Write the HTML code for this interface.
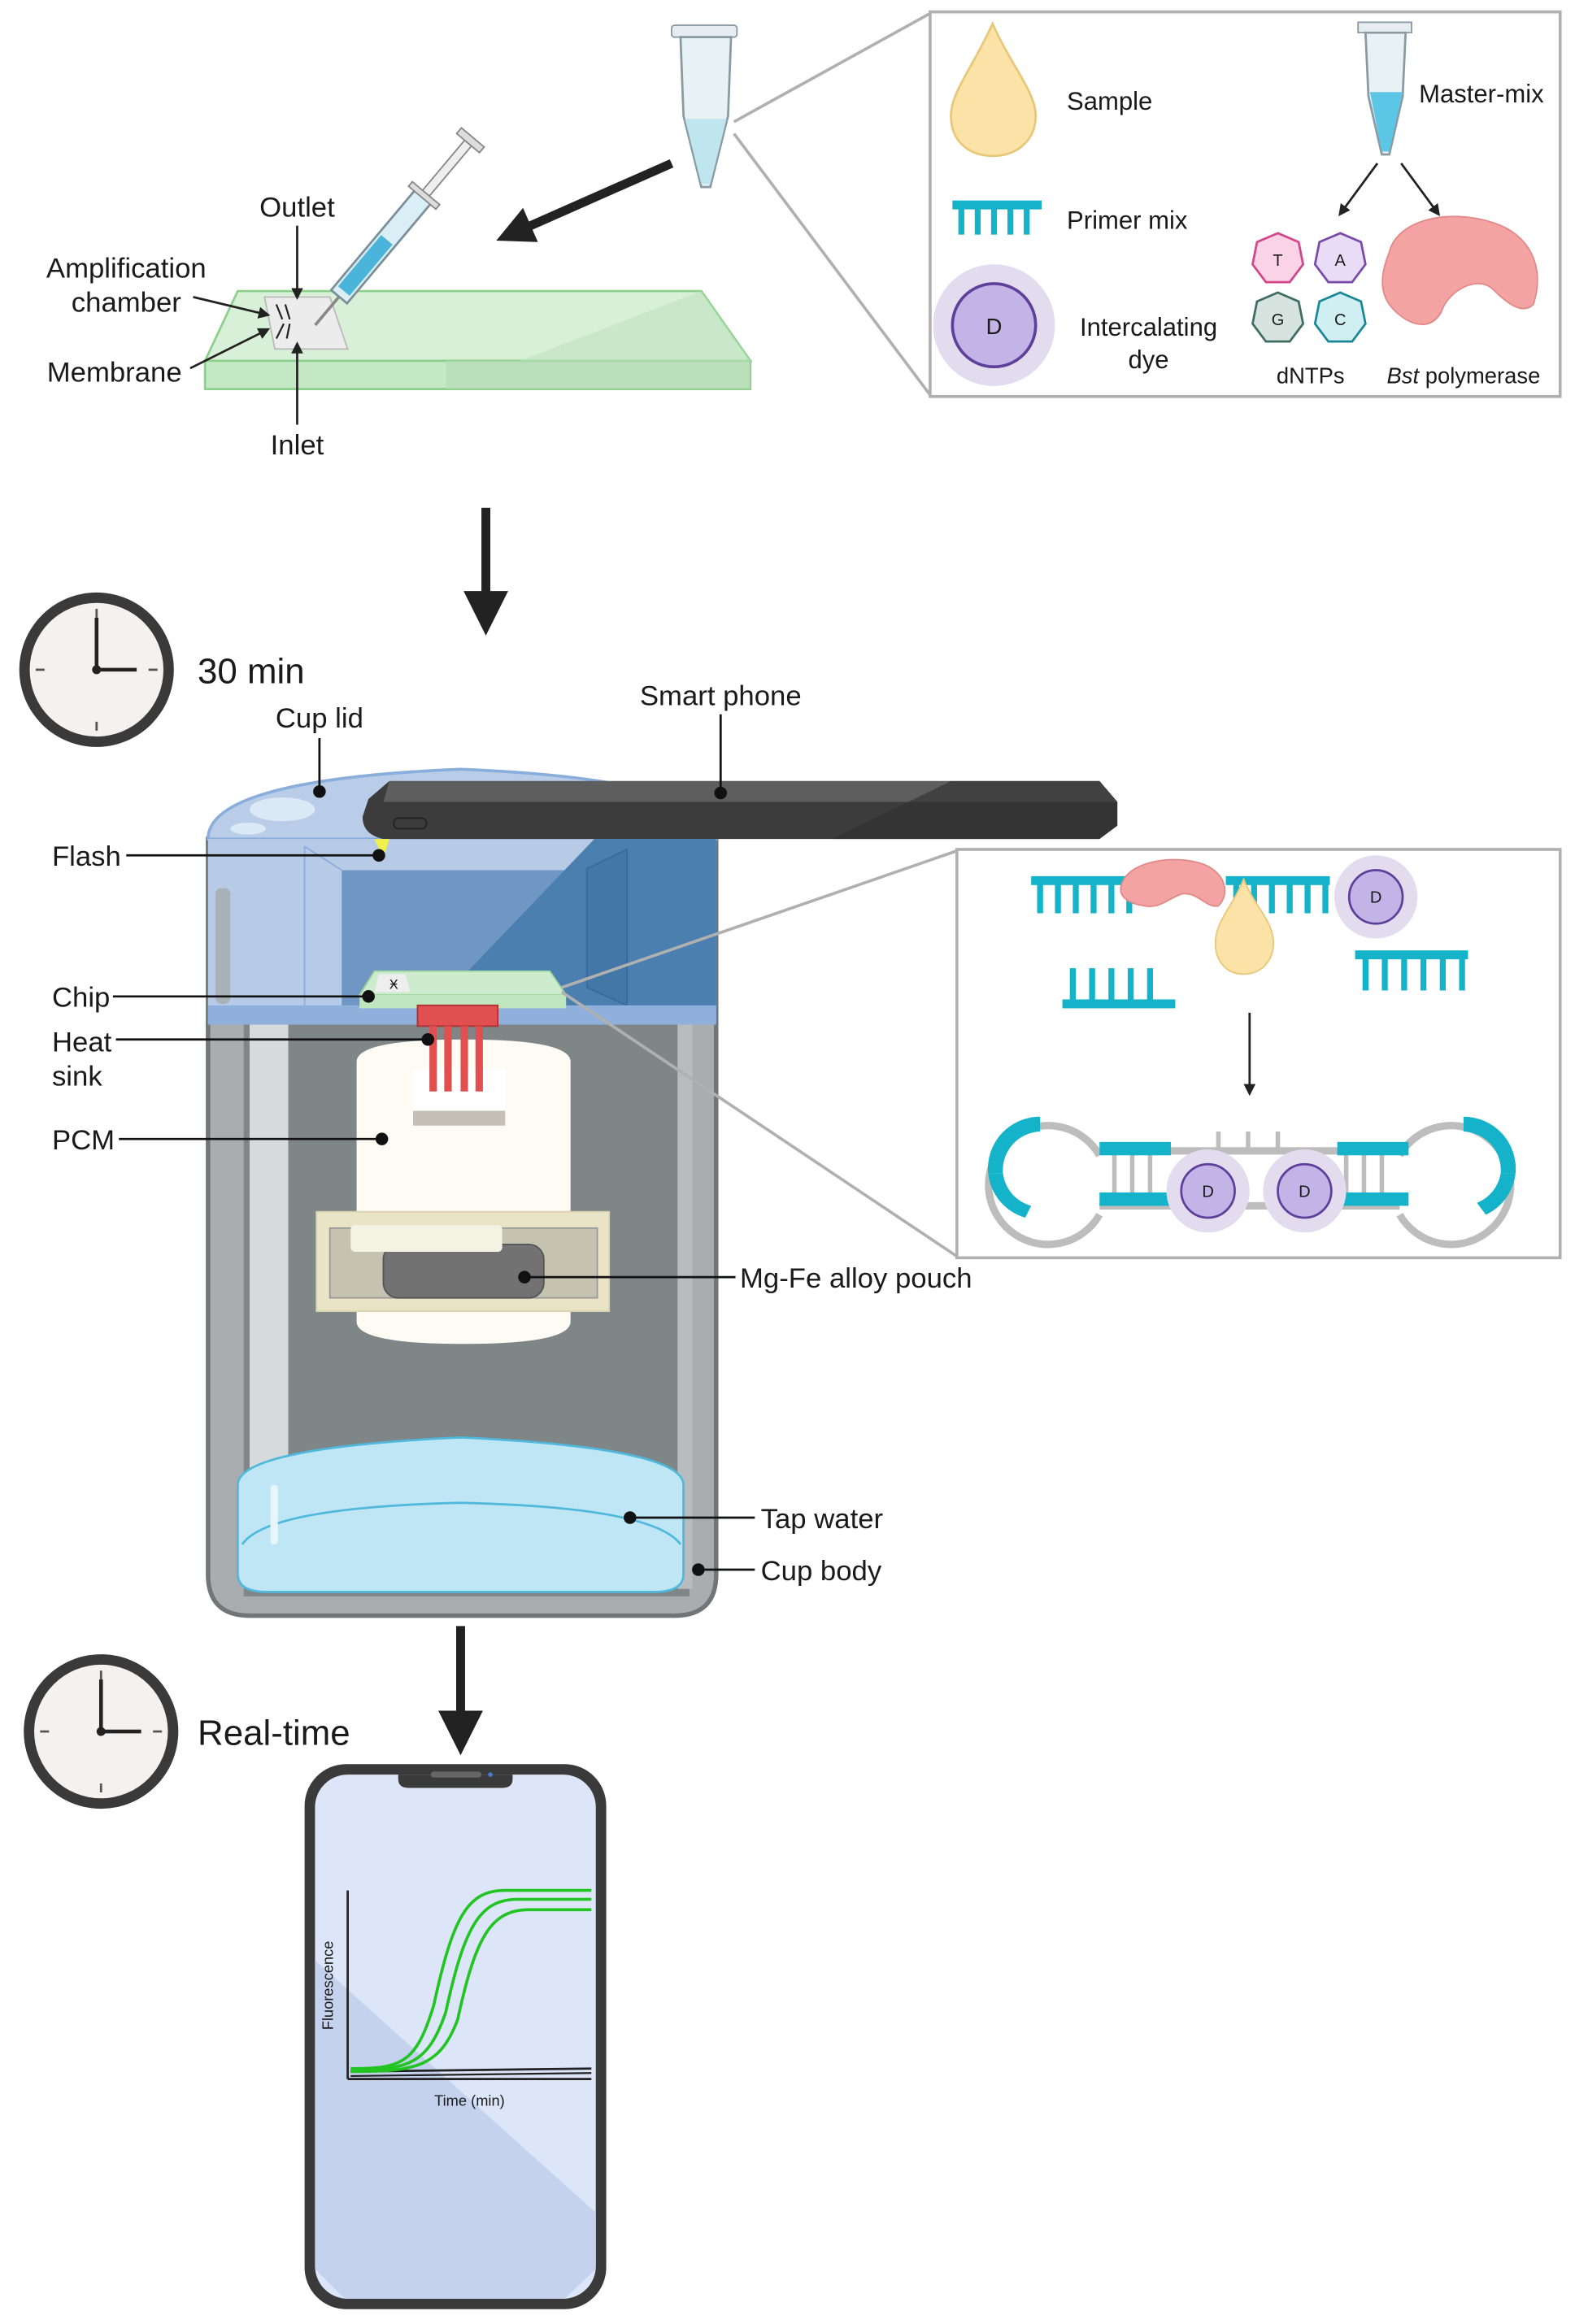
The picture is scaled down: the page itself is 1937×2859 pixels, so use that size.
<!DOCTYPE html>
<html><head><meta charset="utf-8"><style>
html,body{margin:0;padding:0;background:#fff}
svg{display:block}
text{font-family:"Liberation Sans",sans-serif;fill:#1a1a1a}
</style></head><body>
<svg width="1937" height="2859" viewBox="0 0 1060 1565" preserveAspectRatio="none" xmlns="http://www.w3.org/2000/svg">
<defs>
<marker id="ah" markerWidth="8" markerHeight="8" refX="6" refY="4" orient="auto" markerUnits="userSpaceOnUse"><path d="M0,0 L8,4 L0,8 z" fill="#222"/></marker>
</defs>

<!-- top tube -->
<g>
<rect x="452" y="17" width="44" height="8" rx="2" fill="#e6ecef" stroke="#8a9aa3"/>
<path d="M458,25 L492,25 L490,78 L478,126 L472,126 L460,78 Z" fill="#e8f1f4" stroke="#8a9aa3" stroke-width="1.5"/>
<path d="M461,80 L489,80 L478,124 L472,124 Z" fill="#bfe6ef"/>
</g>
<!-- zoom lines -->
<line x1="494" y1="82" x2="626" y2="9" stroke="#b0b0b0" stroke-width="2"/>
<line x1="494" y1="90" x2="626" y2="266" stroke="#b0b0b0" stroke-width="2"/>
<rect x="626" y="8" width="424" height="259" fill="#fff" stroke="#b0b0b0" stroke-width="2"/>

<!-- box1 contents -->
<path d="M668,16 C655,45 640,62 640,78 C640,95 652,105 668,105 C684,105 697,95 697,78 C697,62 681,45 668,16 Z" fill="#fbe3a8" stroke="#e9c77a" stroke-width="1.5"/>
<text x="718" y="74" font-size="17">Sample</text>
<rect x="914" y="15" width="36" height="7" fill="#e6ecef" stroke="#8a9aa3"/>
<path d="M919,22 L946,22 L944,65 L935,104 L930,104 L921,65 Z" fill="#e8f1f4" stroke="#8a9aa3" stroke-width="1.5"/>
<path d="M922,62 L944,62 L935,102 L930,102 Z" fill="#5cc6e6"/>
<text x="955" y="69" font-size="17">Master-mix</text>
<g fill="#14b3c9">
<rect x="641" y="135" width="60" height="6"/>
<rect x="645" y="140" width="4" height="18"/><rect x="656" y="140" width="4" height="18"/><rect x="667" y="140" width="4" height="18"/><rect x="678" y="140" width="4" height="18"/><rect x="689" y="140" width="4" height="18"/>
</g>
<text x="718" y="154" font-size="17">Primer mix</text>
<circle cx="669" cy="219" r="41" fill="#e3dcef"/>
<circle cx="669" cy="219" r="28" fill="#c2b4e6" stroke="#5e3f9a" stroke-width="2"/>
<text x="669" y="225" font-size="15" text-anchor="middle">D</text>
<text x="773" y="226" font-size="17" text-anchor="middle">Intercalating</text>
<text x="773" y="248" font-size="17" text-anchor="middle">dye</text>
<line x1="927" y1="110" x2="902" y2="144" stroke="#222" stroke-width="1.5" marker-end="url(#ah)"/>
<line x1="943" y1="110" x2="968" y2="144" stroke="#222" stroke-width="1.5" marker-end="url(#ah)"/>
<g stroke-width="1.5" font-size="11">
<polygon points="860,157 874,163 877,178 868,190 852,190 843,178 846,163" fill="#fbd3e6" stroke="#d0478a"/>
<polygon points="902,157 916,163 919,178 910,190 894,190 885,178 888,163" fill="#e9dcf6" stroke="#7a4aa8"/>
<polygon points="860,197 874,203 877,218 868,230 852,230 843,218 846,203" fill="#d6e3df" stroke="#3f6d62"/>
<polygon points="902,197 916,203 919,218 910,230 894,230 885,218 888,203" fill="#cfeff3" stroke="#1b8796"/>
</g>
<text x="860" y="179" font-size="11" text-anchor="middle">T</text>
<text x="902" y="179" font-size="11" text-anchor="middle">A</text>
<text x="860" y="219" font-size="11" text-anchor="middle">G</text>
<text x="902" y="219" font-size="11" text-anchor="middle">C</text>
<text x="882" y="258" font-size="15" text-anchor="middle">dNTPs</text>
<path d="M935,170 C940,148 975,140 1005,150 C1030,158 1040,180 1032,205 C1025,212 1015,205 1005,195 C995,185 975,195 970,210 C962,225 945,218 935,205 C928,195 930,182 935,170 Z" fill="#f4a3a3" stroke="#e28989"/>
<text x="985" y="258" font-size="15" text-anchor="middle"><tspan font-style="italic">Bst</tspan> polymerase</text>

<!-- slide -->
<polygon points="160,196 472,196 505,243 138,243" fill="#d7f0d7" stroke="#8cd08c" stroke-width="1.5"/>
<polygon points="138,243 505,243 505,262 138,262" fill="#c5e8c5" stroke="#8cd08c" stroke-width="1.5"/>
<polygon points="300,243 505,243 505,262 300,262" fill="#b5dcb5" opacity="0.7"/>
<polygon points="350,243 472,196 505,243" fill="#bfe2bf" opacity="0.6"/>
<polygon points="178,200 222,200 234,235 185,235" fill="#ececec" stroke="#bbb"/>
<!-- syringe -->
<g transform="rotate(-50 270 150)">
<rect x="205" y="143" width="90" height="14" fill="#d9eef5" stroke="#7a8f99" stroke-width="1.5"/>
<rect x="210" y="145" width="45" height="10" fill="#4ab4da"/>
<rect x="295" y="147" width="45" height="6" fill="#eee" stroke="#888"/>
<rect x="340" y="140" width="5" height="20" fill="#ddd" stroke="#888"/>
<rect x="292" y="138" width="4" height="24" fill="#ddd" stroke="#888"/>
<line x1="205" y1="150" x2="180" y2="150" stroke="#888" stroke-width="2"/>
</g>
<line x1="452" y1="110" x2="348" y2="156" stroke="#222" stroke-width="6"/>
<polygon points="334,162 352,140 362,163" fill="#222"/>
<text x="200" y="146" font-size="19" text-anchor="middle">Outlet</text>
<line x1="200" y1="152" x2="200" y2="200" stroke="#222" stroke-width="1.5" marker-end="url(#ah)"/>
<text x="85" y="187" font-size="19" text-anchor="middle">Amplification</text>
<text x="85" y="210" font-size="19" text-anchor="middle">chamber</text>
<line x1="130" y1="200" x2="180" y2="212" stroke="#222" stroke-width="1.5" marker-end="url(#ah)"/>
<text x="77" y="257" font-size="19" text-anchor="middle">Membrane</text>
<line x1="128" y1="248" x2="180" y2="222" stroke="#222" stroke-width="1.5" marker-end="url(#ah)"/>
<text x="200" y="306" font-size="19" text-anchor="middle">Inlet</text>
<line x1="200" y1="286" x2="200" y2="232" stroke="#222" stroke-width="1.5" marker-end="url(#ah)"/>
<g stroke="#222" stroke-width="1.2"><line x1="186" y1="205" x2="190" y2="215"/><line x1="192" y1="205" x2="195" y2="215"/><line x1="186" y1="228" x2="191" y2="218"/><line x1="193" y1="228" x2="195" y2="218"/></g>

<!-- down arrow 1 -->
<line x1="327" y1="342" x2="327" y2="400" stroke="#222" stroke-width="6"/>
<polygon points="312,398 342,398 327,428" fill="#222"/>

<!-- clock 1 -->
<circle cx="65" cy="451" r="52" fill="#3a3a3a"/>
<circle cx="65" cy="451" r="45" fill="#f4f1f1"/>
<g stroke="#555" stroke-width="1.5">
<line x1="65" y1="410" x2="65" y2="416"/><line x1="65" y1="486" x2="65" y2="492"/><line x1="24" y1="451" x2="30" y2="451"/><line x1="100" y1="451" x2="106" y2="451"/>
</g>
<line x1="65" y1="451" x2="65" y2="416" stroke="#222" stroke-width="2.5"/>
<line x1="65" y1="451" x2="92" y2="451" stroke="#222" stroke-width="2.5"/>
<circle cx="65" cy="451" r="3" fill="#222"/>
<text x="133" y="460" font-size="24">30 min</text>

<!-- cup -->
<path d="M140,565 L140,1060 Q140,1088 168,1088 L454,1088 Q482,1088 482,1060 L482,565 Z" fill="#a9adb0" stroke="#707577" stroke-width="3"/>
<rect x="164" y="690" width="300" height="385" fill="#7e8687"/>
<rect x="168" y="690" width="26" height="320" fill="#d6dadd"/>
<rect x="456" y="690" width="10" height="380" fill="#b8bcbf"/>
<path d="M140,565 Q140,525 310,518 Q482,525 482,565 Z" fill="#b9cde8" stroke="#8aaedc" stroke-width="2"/>
<ellipse cx="190" cy="545" rx="22" ry="8" fill="#dbe8f6"/>
<ellipse cx="167" cy="558" rx="12" ry="4" fill="#dbe8f6"/>
<rect x="140" y="565" width="342" height="125" fill="#b7cbe6"/>
<rect x="230" y="586" width="252" height="95" fill="#7097c3"/>
<polygon points="400,565 482,565 482,680 290,680" fill="#4a7fb0"/>
<line x1="205" y1="570" x2="205" y2="678" stroke="#8aaedc"/>
<line x1="205" y1="570" x2="230" y2="586" stroke="#8aaedc"/>
<polygon points="395,585 422,572 422,677 395,665" fill="#4277a8" stroke="#3a6a98"/>
<rect x="145" y="598" width="10" height="78" rx="4" fill="#a8b0b8"/>
<rect x="140" y="677" width="342" height="13" fill="#8fb0dc"/>
<!-- chip -->
<polygon points="252,654 370,654 381,670 242,670" fill="#cdeccd" stroke="#9fd59f"/>
<rect x="242" y="670" width="139" height="9" fill="#c0e6c0"/>
<polygon points="255,656 273,656 276,668 252,668" fill="#eee"/>
<text x="262" y="666" font-size="9" fill="#333">Ӿ</text>
<!-- heat sink -->
<rect x="281" y="677" width="54" height="14" fill="#e05050" stroke="#b03030"/>
<!-- PCM -->
<path d="M240,715 Q240,700 312,700 Q384,700 384,715 L384,890 Q384,905 312,905 Q240,905 240,890 Z" fill="#fdfbf3"/>
<rect x="278" y="720" width="62" height="38" fill="#fff"/>
<rect x="278" y="748" width="62" height="10" fill="#c6bfb8"/>
<g fill="#e05050"><rect x="289" y="691" width="5" height="44"/><rect x="299" y="691" width="5" height="44"/><rect x="310" y="691" width="5" height="44"/><rect x="320" y="691" width="5" height="44"/></g>
<rect x="213" y="816" width="197" height="67" fill="#e9e4c6" stroke="#d8d2ae"/>
<rect x="222" y="827" width="180" height="47" fill="#c5c3b0" stroke="#999"/>
<rect x="258" y="838" width="108" height="36" rx="10" fill="#727272" stroke="#555"/>
<rect x="236" y="825" width="102" height="18" rx="3" fill="#f4f2e3"/>
<!-- water -->
<path d="M160,1000 Q160,975 310,968 Q460,975 460,1000 L460,1060 Q460,1072 440,1072 L180,1072 Q160,1072 160,1060 Z" fill="#bfe6f4" stroke="#4fb8dc" stroke-width="1.5"/>
<path d="M163,1040 Q180,1015 310,1012 Q440,1015 458,1040" fill="none" stroke="#4fb8dc" stroke-width="1.5"/>
<rect x="182" y="1000" width="5" height="40" rx="2" fill="#e8f6fb"/>
<!-- phone on top -->
<path d="M262,526 L740,526 L752,540 L752,556 L740,565 L258,565 Q244,562 244,550 L248,538 Z" fill="#3c3c3c"/>
<polygon points="262,526 740,526 752,540 258,540" fill="#5e5e5e"/>
<polygon points="560,565 640,526 740,526 752,540 752,556 740,565" fill="#2e2e2e" opacity="0.6"/>
<rect x="265" y="551" width="22" height="7" rx="3" fill="none" stroke="#222"/>
<path d="M252,565 L262,565 L258,578 Z" fill="#f0f04a"/>

<!-- cup labels -->
<g stroke="#111" stroke-width="1.5" fill="#111">
<line x1="215" y1="497" x2="215" y2="533"/><circle cx="215" cy="533" r="3.5"/>
<line x1="485" y1="481" x2="485" y2="534"/><circle cx="485" cy="534" r="3.5"/>
<line x1="85" y1="576" x2="255" y2="576"/><circle cx="255" cy="576" r="3.5"/>
<line x1="76" y1="671" x2="248" y2="671"/><circle cx="248" cy="671" r="3.5"/>
<line x1="78" y1="700" x2="288" y2="700"/><circle cx="288" cy="700" r="3.5"/>
<line x1="80" y1="767" x2="257" y2="767"/><circle cx="257" cy="767" r="3.5"/>
<line x1="353" y1="860" x2="495" y2="860"/><circle cx="353" cy="860" r="3.5"/>
<line x1="424" y1="1022" x2="508" y2="1022"/><circle cx="424" cy="1022" r="3.5"/>
<line x1="470" y1="1057" x2="508" y2="1057"/><circle cx="470" cy="1057" r="3.5"/>
</g>
<text x="215" y="490" font-size="19" text-anchor="middle">Cup lid</text>
<text x="485" y="475" font-size="19" text-anchor="middle">Smart phone</text>
<text x="35" y="583" font-size="19">Flash</text>
<text x="35" y="678" font-size="19">Chip</text>
<text x="35" y="708" font-size="19">Heat</text>
<text x="35" y="731" font-size="19">sink</text>
<text x="35" y="774" font-size="19">PCM</text>
<text x="498" y="867" font-size="19">Mg-Fe alloy pouch</text>
<text x="512" y="1029" font-size="19">Tap water</text>
<text x="512" y="1064" font-size="19">Cup body</text>

<!-- zoom box 2 -->
<line x1="378" y1="665" x2="644" y2="573" stroke="#b0b0b0" stroke-width="2"/>
<line x1="378" y1="668" x2="644" y2="846" stroke="#b0b0b0" stroke-width="2"/>
<rect x="644" y="572" width="406" height="275" fill="#fff" stroke="#b0b0b0" stroke-width="2"/>
<g fill="#14b3c9">
<rect x="694" y="590" width="70" height="6"/>
<rect x="698" y="595" width="4" height="20"/><rect x="710" y="595" width="4" height="20"/><rect x="722" y="595" width="4" height="20"/><rect x="734" y="595" width="4" height="20"/><rect x="746" y="595" width="4" height="20"/><rect x="758" y="595" width="4" height="20"/>
<rect x="825" y="590" width="70" height="6"/>
<rect x="830" y="595" width="4" height="20"/><rect x="842" y="595" width="4" height="20"/><rect x="854" y="595" width="4" height="20"/><rect x="866" y="595" width="4" height="20"/><rect x="878" y="595" width="4" height="20"/><rect x="890" y="595" width="4" height="20"/>
<rect x="715" y="673" width="76" height="6"/>
<rect x="720" y="652" width="4" height="22"/><rect x="733" y="652" width="4" height="22"/><rect x="746" y="652" width="4" height="22"/><rect x="759" y="652" width="4" height="22"/><rect x="772" y="652" width="4" height="22"/>
<rect x="912" y="640" width="76" height="6"/>
<rect x="917" y="645" width="4" height="22"/><rect x="930" y="645" width="4" height="22"/><rect x="943" y="645" width="4" height="22"/><rect x="956" y="645" width="4" height="22"/><rect x="969" y="645" width="4" height="22"/><rect x="982" y="645" width="4" height="22"/>
</g>
<path d="M755,595 C760,580 790,575 810,582 C825,588 828,602 820,610 C812,612 806,600 795,602 C785,606 780,612 770,610 C758,608 752,603 755,595 Z" fill="#f4a3a3" stroke="#e28989"/>
<path d="M837,592 C830,610 818,620 818,635 C818,648 826,656 837,656 C848,656 857,648 857,635 C857,620 844,610 837,592 Z" fill="#fbe3a8" stroke="#e9c77a"/>
<circle cx="926" cy="604" r="28" fill="#e3dcef"/>
<circle cx="926" cy="604" r="18" fill="#c2b4e6" stroke="#5e3f9a" stroke-width="1.5"/>
<text x="926" y="608" font-size="11" text-anchor="middle">D</text>
<line x1="841" y1="682" x2="841" y2="736" stroke="#222" stroke-width="1.5" marker-end="url(#ah)"/>
<!-- dumbbell -->
<g fill="none" stroke="#bdbdbd" stroke-width="5">
<path d="M740,778 A40,40 0 1 0 740,818"/>
<path d="M942,778 A40,40 0 1 1 942,818"/>
<line x1="740" y1="775" x2="942" y2="775"/>
<line x1="740" y1="812" x2="942" y2="812"/>
</g>
<g stroke="#bdbdbd" stroke-width="3">
<line x1="750" y1="775" x2="750" y2="812"/><line x1="762" y1="775" x2="762" y2="812"/><line x1="774" y1="775" x2="774" y2="812"/><line x1="906" y1="775" x2="906" y2="812"/><line x1="918" y1="775" x2="918" y2="812"/><line x1="930" y1="775" x2="930" y2="812"/>
<line x1="820" y1="762" x2="820" y2="775"/><line x1="840" y1="762" x2="840" y2="775"/><line x1="860" y1="762" x2="860" y2="775"/>
</g>
<g fill="#14b3c9">
<rect x="740" y="769" width="48" height="9"/><rect x="740" y="803" width="48" height="9"/>
<rect x="900" y="769" width="48" height="9"/><rect x="900" y="803" width="48" height="9"/>
<path d="M665,790 A35,35 0 0 1 700,752 L700,762 A26,26 0 0 0 675,790 Z"/>
<path d="M665,790 A35,35 0 0 0 690,820 L694,812 A26,26 0 0 1 675,790 Z"/>
<path d="M1020,790 A35,35 0 0 0 985,752 L985,762 A26,26 0 0 1 1010,790 Z"/>
<path d="M1020,790 A35,35 0 0 1 1000,818 L994,810 A26,26 0 0 0 1010,790 Z"/>
</g>
<circle cx="813" cy="802" r="28" fill="#e3dcef"/>
<circle cx="813" cy="802" r="18" fill="#c2b4e6" stroke="#5e3f9a" stroke-width="1.5"/>
<text x="813" y="806" font-size="11" text-anchor="middle">D</text>
<circle cx="878" cy="802" r="28" fill="#e3dcef"/>
<circle cx="878" cy="802" r="18" fill="#c2b4e6" stroke="#5e3f9a" stroke-width="1.5"/>
<text x="878" y="806" font-size="11" text-anchor="middle">D</text>

<!-- down arrow 2 -->
<line x1="310" y1="1095" x2="310" y2="1155" stroke="#222" stroke-width="6"/>
<polygon points="295,1152 325,1152 310,1182" fill="#222"/>

<!-- clock 2 -->
<circle cx="68" cy="1166" r="52" fill="#3a3a3a"/>
<circle cx="68" cy="1166" r="45" fill="#f4f1f1"/>
<g stroke="#555" stroke-width="1.5">
<line x1="68" y1="1125" x2="68" y2="1131"/><line x1="68" y1="1201" x2="68" y2="1207"/><line x1="27" y1="1166" x2="33" y2="1166"/><line x1="103" y1="1166" x2="109" y2="1166"/>
</g>
<line x1="68" y1="1166" x2="68" y2="1131" stroke="#222" stroke-width="2.5"/>
<line x1="68" y1="1166" x2="95" y2="1166" stroke="#222" stroke-width="2.5"/>
<circle cx="68" cy="1166" r="3" fill="#222"/>
<text x="133" y="1175" font-size="24">Real-time</text>

<!-- phone -->
<rect x="205" y="1188" width="203" height="367" rx="28" fill="#3a3a3a"/>
<rect x="212" y="1195" width="189" height="353" rx="22" fill="#dce6f8"/>
<polygon points="212,1320 401,1490 401,1528 380,1548 232,1548 212,1528" fill="#c4d2ee"/>
<path d="M268,1195 L345,1195 L345,1198 Q345,1204 338,1204 L275,1204 Q268,1204 268,1198 Z" fill="#3a3a3a"/>
<rect x="290" y="1193" width="34" height="4" rx="2" fill="#666"/>
<circle cx="330" cy="1195" r="1.5" fill="#4a7fd6"/>
<line x1="234" y1="1273" x2="234" y2="1400" stroke="#222" stroke-width="1.5"/>
<line x1="234" y1="1400" x2="398" y2="1400" stroke="#222" stroke-width="1.5"/>
<path d="M236,1395 L398,1393" stroke="#222" stroke-width="1.5" fill="none"/>
<path d="M236,1398 L398,1396" stroke="#222" stroke-width="1.2" fill="none"/>
<g fill="none" stroke="#22c422" stroke-width="2">
<path d="M236,1393 C270,1393 280,1390 292,1350 C305,1290 315,1273 340,1273 L398,1273"/>
<path d="M236,1394 C275,1394 288,1390 300,1355 C312,1300 322,1279 348,1279 L398,1279"/>
<path d="M236,1395 C280,1395 296,1392 308,1360 C320,1305 330,1286 356,1286 L398,1286"/>
</g>
<text x="316" y="1418" font-size="10" text-anchor="middle">Time (min)</text>
<text x="224" y="1337" font-size="10" text-anchor="middle" transform="rotate(-90 224 1337)">Fluorescence</text>
</svg>
</body></html>
